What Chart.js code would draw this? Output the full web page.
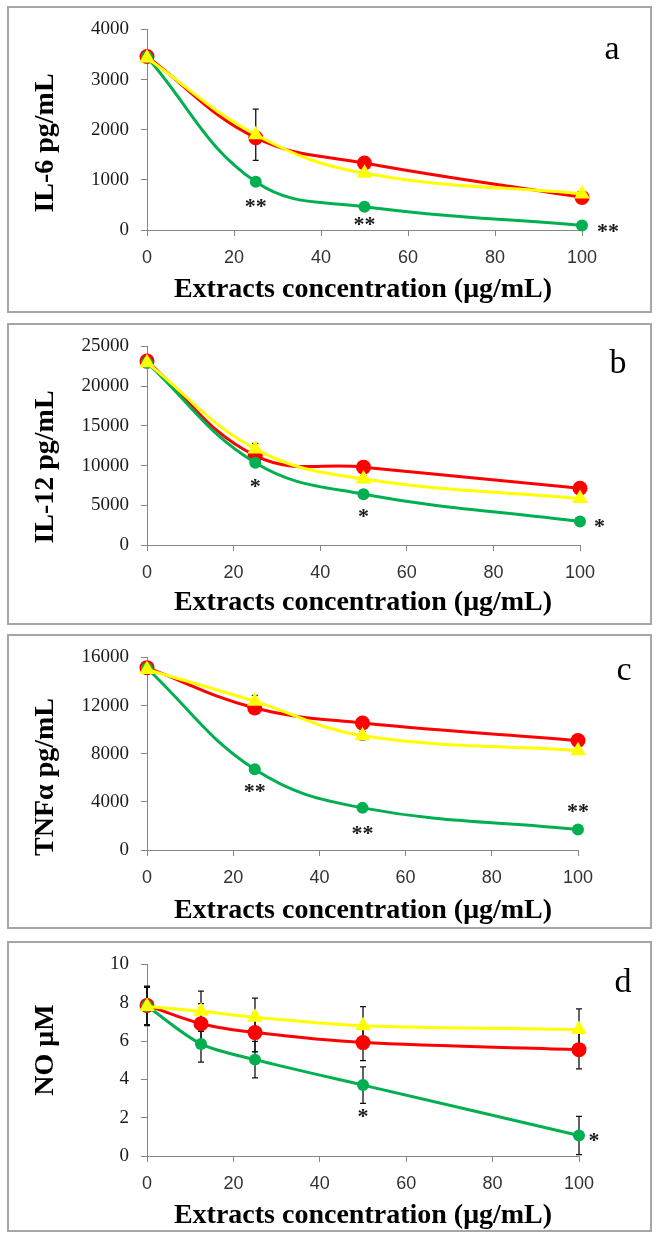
<!DOCTYPE html>
<html>
<head>
<meta charset="utf-8">
<script src="https://cdn.jsdelivr.net/npm/chart.js@4.4.1/dist/chart.umd.min.js"></script>
<style>
  body { margin: 0; background: #fff; width: 661px; height: 1239px; position: relative; overflow: hidden; }
  canvas { position: absolute; left: 0; }
  .box { position: absolute; left: 7px; width: 645px; border: 2px solid #a6a6a6; box-sizing: border-box; pointer-events: none; }
</style>
</head>
<body>
<canvas id="ca"></canvas>
<canvas id="cb"></canvas>
<canvas id="cc"></canvas>
<canvas id="cd"></canvas>
<div class="box" id="ba"></div>
<div class="box" id="bb"></div>
<div class="box" id="bc"></div>
<div class="box" id="bd"></div>
<script>
const red_color = '#ff0000';
const yellow_color = '#ffff00';
const green_color = '#00b050';

// shared x values
const conc = [0, 25, 50, 100];
const concNO = [0, 12.5, 25, 50, 100];
const xTicks = [0, 20, 40, 60, 80, 100];

// a - IL-6
const il6Red = [3460, 1840, 1335, 650];
const il6Yellow = [3430, 1900, 1130, 720];
const il6Green = [3450, 960, 465, 90];
const il6YellowErr = [0, 510, 0, 0];
const il6StarX = [25, 50, 106];
const il6StarY = [560, 190, 60];
const il6StarText = ['**', '**', '**'];

// b - IL-12
const il12Red = [23150, 11250, 9800, 7150];
const il12Yellow = [22950, 12100, 8300, 5850];
const il12Green = [22950, 10350, 6400, 2950];
const il12YellowErr = [0, 700, 400, 300];
const il12StarX = [25, 50, 104.5];
const il12StarY = [7990, 4180, 2870];
const il12StarText = ['*', '*', '*'];

// c - TNFα
const tnfRed = [15150, 11800, 10550, 9100];
const tnfYellow = [15000, 12350, 9500, 8250];
const tnfGreen = [15100, 6700, 3500, 1700];
const tnfYellowErr = [0, 500, 350, 0];
const tnfStarX = [25, 50, 100];
const tnfStarY = [5210, 1740, 3610];
const tnfStarText = ['**', '**', '**'];

// d - NO
const noRed = [7.86, 6.9, 6.44, 5.92, 5.55];
const noYellow = [7.8, 7.55, 7.24, 6.8, 6.6];
const noGreen = [7.83, 5.85, 5.03, 3.7, 1.07];
const noRedErr = [1.0, 1.05, 1.0, 0.94, 1.0];
const noYellowErr = [1.0, 1.05, 1.0, 1.0, 1.08];
const noGreenErr = [1.0, 0.95, 0.95, 0.95, 1.0];
const noStarX = [50, 103.5];
const noStarY = [2.31, 1.05];
const noStarText = ['*', '*'];

function pts(xs, ys){
    return xs.map((x, i) => ({x: x, y: ys[i]}));
}

function series(xs, ys, color, style, radius, errs, tension){
    return {
        data: pts(xs, ys),
        errors: errs || null,
        borderColor: color,
        backgroundColor: color,
        borderWidth: 3,
        pointStyle: style,
        pointRadius: radius,
        pointBorderWidth: 0,
        tension: tension,
        clip: false
    };
}

const errorBars = {
    id: 'errorBars',
    beforeDatasetsDraw(chart){
        const ctx = chart.ctx;
        const xs = chart.scales.x, ys = chart.scales.y;
        ctx.save();
        ctx.strokeStyle = '#111';
        ctx.lineWidth = 1.3;
        chart.data.datasets.forEach(ds => {
            if (!ds.errors) return;
            ds.data.forEach((p, i) => {
                const e = ds.errors[i];
                if (!e) return;
                const px = xs.getPixelForValue(p.x);
                const top = ys.getPixelForValue(p.y + e);
                const bot = ys.getPixelForValue(p.y - e);
                ctx.beginPath();
                ctx.moveTo(px, top); ctx.lineTo(px, bot);
                ctx.moveTo(px - 3, top); ctx.lineTo(px + 3, top);
                ctx.moveTo(px - 3, bot); ctx.lineTo(px + 3, bot);
                ctx.stroke();
            });
        });
        ctx.restore();
    }
};

const panelText = {
    id: 'panelText',
    afterDraw(chart, args, o){
        const ctx = chart.ctx;
        const xs = chart.scales.x, ys = chart.scales.y;
        ctx.save();
        ctx.fillStyle = '#000';
        ctx.textAlign = 'center';
        ctx.textBaseline = 'alphabetic';
        ctx.font = 'bold 28px "Liberation Serif"';
        ctx.fillText('Extracts concentration (μg/mL)', 363, o.xTitleY);
        ctx.save();
        ctx.translate(53, o.yTitleY);
        ctx.rotate(-Math.PI / 2);
        ctx.fillText(o.yTitle, 0, 0);
        ctx.restore();
        ctx.font = '34px "Liberation Serif"';
        ctx.fillText(o.letter, o.letterX, o.letterY);
        ctx.font = 'bold 22px "Liberation Serif"';
        ctx.fillStyle = '#1a1a1a';
        o.starX.forEach((sx, i) => {
            ctx.fillText(o.starText[i], xs.getPixelForValue(sx), ys.getPixelForValue(o.starY[i]) + 11);
        });
        ctx.restore();
    }
};

function drawPanel(id, boxId, p){
    const cv = document.getElementById(id);
    cv.width = 661; cv.height = p.height;
    cv.style.top = p.top + 'px';
    const box = document.getElementById(boxId);
    box.style.top = p.top + 'px';
    box.style.height = p.height + 'px';

    const chartTop = p.chartTop - p.top;
    const xAxisH = p.height - (p.chartBottom - p.top);

    return new Chart(cv, {
        type: 'scatter',
        data: { datasets: p.datasets },
        options: {
            responsive: false,
            animation: false,
            devicePixelRatio: 1,
            showLine: true,
            layout: { padding: { top: chartTop, right: 661 - p.right, left: 0, bottom: 0 } },
            plugins: {
                legend: { display: false },
                tooltip: { enabled: false },
                panelText: {
                    xTitleY: p.xTitleY - p.top,
                    yTitle: p.yTitle,
                    yTitleY: p.yTitleY - p.top,
                    letter: p.letter,
                    letterX: p.letterX,
                    letterY: p.letterY - p.top,
                    starX: p.starX, starY: p.starY, starText: p.starText
                }
            },
            scales: {
                x: {
                    type: 'linear',
                    min: 0, max: 100,
                    afterFit: s => { s.height = xAxisH; },
                    afterBuildTicks: s => { s.ticks = xTicks.map(v => ({value: v})); },
                    grid: { display: true, drawOnChartArea: false, drawTicks: true, tickLength: 6, color: '#868686' },
                    border: { display: true, color: '#868686', width: 1 },
                    ticks: {
                        font: { family: '"Liberation Sans"', size: 18 },
                        color: '#333',
                        padding: 11,
                        maxRotation: 0,
                        autoSkip: false,
                        callback: v => String(v)
                    }
                },
                y: {
                    type: 'linear',
                    min: 0, max: p.yMax,
                    afterFit: s => { s.width = 147; },
                    afterBuildTicks: s => { s.ticks = p.yTicks.map(v => ({value: v})); },
                    grid: { display: true, drawOnChartArea: false, drawTicks: true, tickLength: 6, color: '#868686' },
                    border: { display: true, color: '#868686', width: 1 },
                    ticks: {
                        font: { family: '"Liberation Serif"', size: 19 },
                        color: '#1a1a1a',
                        padding: 12,
                        autoSkip: false,
                        callback: v => String(v)
                    }
                }
            }
        },
        plugins: [errorBars, panelText]
    });
}

drawPanel('ca', 'ba', {
    top: 6, height: 307, chartTop: 23.5, chartBottom: 230, right: 582,
    yMax: 4000, yTicks: [0, 1000, 2000, 3000, 4000],
    xTitleY: 297, yTitle: 'IL-6 pg/mL', yTitleY: 143,
    letter: 'a', letterX: 612, letterY: 59,
    starX: il6StarX, starY: il6StarY, starText: il6StarText,
    datasets: [
        series(conc, il6Yellow, yellow_color, 'triangle', 9, il6YellowErr, 0.4),
        series(conc, il6Green, green_color, 'circle', 6, null, 0.4),
        series(conc, il6Red, red_color, 'circle', 7.5, null, 0.4)
    ]
});

drawPanel('cb', 'bb', {
    top: 323, height: 302, chartTop: 341.7, chartBottom: 545, right: 580,
    yMax: 25000, yTicks: [0, 5000, 10000, 15000, 20000, 25000],
    xTitleY: 610, yTitle: 'IL-12 pg/mL', yTitleY: 467,
    letter: 'b', letterX: 618, letterY: 373,
    starX: il12StarX, starY: il12StarY, starText: il12StarText,
    datasets: [
        series(conc, il12Yellow, yellow_color, 'triangle', 9, il12YellowErr, 0.4),
        series(conc, il12Green, green_color, 'circle', 6, null, 0.4),
        series(conc, il12Red, red_color, 'circle', 7.5, null, 0.4)
    ]
});

drawPanel('cc', 'bc', {
    top: 634, height: 295, chartTop: 650.7, chartBottom: 850, right: 578,
    yMax: 16000, yTicks: [0, 4000, 8000, 12000, 16000],
    xTitleY: 918, yTitle: 'TNFα pg/mL', yTitleY: 777,
    letter: 'c', letterX: 624, letterY: 680,
    starX: tnfStarX, starY: tnfStarY, starText: tnfStarText,
    datasets: [
        series(conc, tnfYellow, yellow_color, 'triangle', 9, tnfYellowErr, 0.4),
        series(conc, tnfGreen, green_color, 'circle', 6, null, 0.4),
        series(conc, tnfRed, red_color, 'circle', 7.5, null, 0.4)
    ]
});

drawPanel('cd', 'bd', {
    top: 941, height: 291, chartTop: 956.7, chartBottom: 1156, right: 579,
    yMax: 10, yTicks: [0, 2, 4, 6, 8, 10],
    xTitleY: 1223, yTitle: 'NO μM', yTitleY: 1050,
    letter: 'd', letterX: 623, letterY: 992,
    starX: noStarX, starY: noStarY, starText: noStarText,
    datasets: [
        series(concNO, noYellow, yellow_color, 'triangle', 9, noYellowErr, 0.3),
        series(concNO, noGreen, green_color, 'circle', 6, noGreenErr, 0.3),
        series(concNO, noRed, red_color, 'circle', 7.5, noRedErr, 0.3)
    ]
});
</script>
</body>
</html>
